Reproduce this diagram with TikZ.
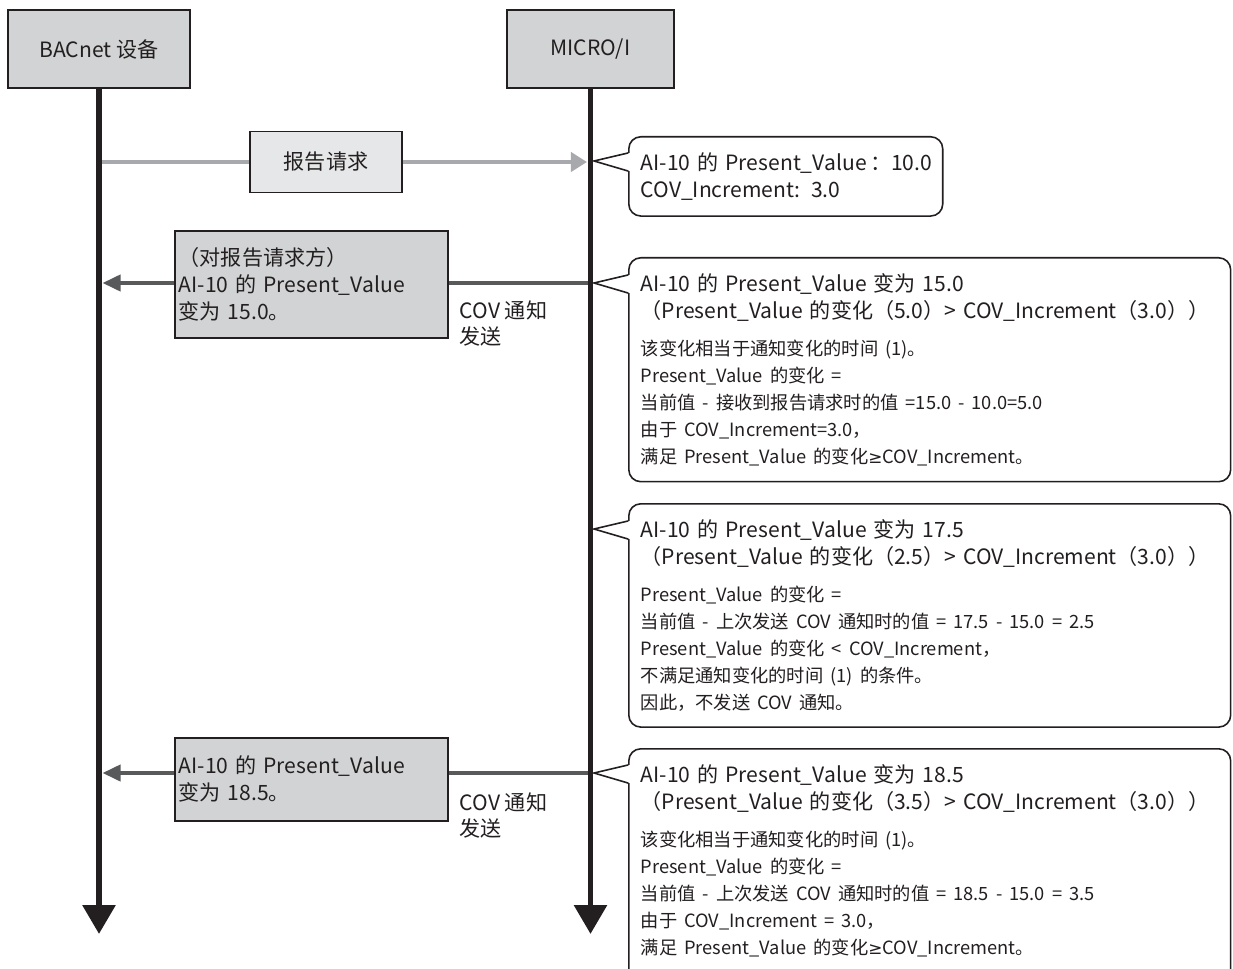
\documentclass[tikz,border=0pt]{standalone}
\usepackage{fontspec}
\setmainfont{Noto Sans CJK SC}
\newfontfamily\symfont{DejaVu Sans}
\usetikzlibrary{positioning,arrows.meta,calc}

\definecolor{inkblack}{HTML}{231F20}
\definecolor{headgray}{HTML}{D1D3D4}
\definecolor{reqgray}{HTML}{E6E7E8}
\definecolor{reqline}{HTML}{A7A9AC}
\definecolor{notifyline}{HTML}{58595B}

\newcommand{\bigtxt}{\fontsize{12}{15.3}\selectfont}
\newcommand{\smalltxt}{\fontsize{10.4}{15.3}\selectfont}
\newcommand{\gesign}{{\symfont\fontsize{9.6}{15.3}\selectfont ≥}}

\begin{document}
\begin{tikzpicture}[
		x=0.02cm, y=-0.02cm,
		every node/.style={
			font=\bigtxt,
			text=inkblack
		},
		headbox/.style={draw=inkblack, line width=0.9pt, fill=headgray, minimum height=1.56cm},
		reqbox/.style={draw=inkblack, line width=0.9pt, fill=reqgray, minimum width=3.04cm, minimum height=1.22cm},
		msgbox/.style={draw=inkblack, line width=0.9pt, fill=headgray, text width=5.3cm, align=left,
			inner xsep=0.08cm, inner ysep=0pt, anchor=north west},
		callbox/.style={draw=inkblack, line width=0.9pt, fill=white, rounded corners=0.24cm, align=left,
			inner xsep=0.24cm, inner ysep=9pt, anchor=north west},
		callline/.style={draw=inkblack, line width=0.9pt},
		lifeline/.style={draw=inkblack, line width=3.4pt, -{Triangle[width=0.64cm,length=0.58cm]}},
		reqarrow/.style={draw=reqline, line width=2.2pt},
		notifyarrow/.style={draw=notifyline, line width=2.2pt},
		notelabel/.style={align=left, inner sep=0pt, anchor=north west}
		]
		
		\path[use as bounding box, clip] (0,0) rectangle (1233,969);
		
		%--------------------------------------------------
		% Lifelines (heads)
		%--------------------------------------------------
		
		\node[headbox, minimum width=3.64cm] (bacnet) at (99,49) {BACnet 设备};
		\node[headbox, minimum width=3.34cm] (micro) at (590.5,49) {MICRO/I};
		
		\coordinate (endy) at (0,934);
		\coordinate (t1) at (594,161);
		\coordinate (t2) at (594,283);
		\coordinate (t3) at (594,529);
		\coordinate (t4) at (594,773);
		
		%--------------------------------------------------
		% Messages
		%--------------------------------------------------
		
		\node[reqbox] (req) at (326,162) {报告请求};
		
		\draw[reqarrow] (bacnet.south |- req) -- (req);
		\draw[reqarrow, -{Triangle[width=0.38cm,length=0.32cm]}, shorten >=2pt]
		(req) -- (micro.south |- req);
		
		\node[msgbox, minimum height=2.14cm] (msg1) at (174,230)
		{（对报告请求方）\\AI-10 的 Present\_Value\\变为 15.0。};
		
		\node[msgbox, minimum height=1.66cm] (msg3) at (174,737)
		{AI-10 的 Present\_Value\\变为 18.5。};
		
		\draw[notifyarrow] (micro.south |- t2) -- (msg1.east |- t2);
		\draw[notifyarrow, -{Triangle[width=0.32cm,length=0.36cm]}, shorten >=2pt]
		(msg1.west |- t2) -- (bacnet.south |- t2);
		
		\draw[notifyarrow] (micro.south |- t4) -- (msg3.east |- t4);
		\draw[notifyarrow, -{Triangle[width=0.32cm,length=0.36cm]}, shorten >=2pt]
		(msg3.west |- t4) -- (bacnet.south |- t4);
		
		\node[notelabel] (lab1) at ($(msg1.east |- t2)+(11,17)$) {COV 通知\\发送};
		\node[notelabel] (lab3) at ($(msg3.east |- t4)+(11,19)$) {COV 通知\\发送};
		
		\draw[lifeline] (bacnet.south) -- (bacnet.south |- endy);
		\draw[lifeline] (micro.south) -- (micro.south |- endy);
		
		%--------------------------------------------------
		% Callouts
		%--------------------------------------------------
		
		\node[callbox, text width=5.8cm] (c1) at (628,136)
		{\mbox{AI-10 的 Present\_Value\,：10.0}\\COV\_Increment: 3.0};
		
		\node[callbox, text width=11.56cm] (c2) at (628,257)
		{AI-10 的 Present\_Value 变为 15.0\\
			（Present\_Value 的变化（5.0）> COV\_Increment（3.0））\par
			\vspace{6pt}\smalltxt
			该变化相当于通知变化的时间 (1)。\\
			Present\_Value 的变化 =\\
			当前值 - 接收到报告请求时的值 =15.0 - 10.0=5.0\\
			由于 COV\_Increment=3.0，\\
			满足 Present\_Value 的变化\gesign COV\_Increment。};
		
		\node[callbox, text width=11.56cm] (c3) at (628,503)
		{AI-10 的 Present\_Value 变为 17.5\\
			（Present\_Value 的变化（2.5）> COV\_Increment（3.0））\par
			\vspace{6pt}\smalltxt
			Present\_Value 的变化 =\\
			当前值 - 上次发送 COV 通知时的值 = 17.5 - 15.0 = 2.5\\
			Present\_Value 的变化 < COV\_Increment，\\
			不满足通知变化的时间 (1) 的条件。\\
			因此，不发送 COV 通知。};
		
		\node[callbox, text width=11.56cm] (c4) at (628,748)
		{AI-10 的 Present\_Value 变为 18.5\\
			（Present\_Value 的变化（3.5）> COV\_Increment（3.0））\par
			\vspace{6pt}\smalltxt
			该变化相当于通知变化的时间 (1)。\\
			Present\_Value 的变化 =\\
			当前值 - 上次发送 COV 通知时的值 = 18.5 - 15.0 = 3.5\\
			由于 COV\_Increment = 3.0，\\
			满足 Present\_Value 的变化\gesign COV\_Increment。\\
			\mbox{}};
		
		\foreach \k in {1,2,3,4}
		{
			\fill[white] ($(c\k.west |- t\k)+(2,-8)$) -- (t\k) -- ($(c\k.west |- t\k)+(2,10)$) -- cycle;
			\draw[callline] ($(c\k.west |- t\k)+(0,-8)$) -- (t\k) -- ($(c\k.west |- t\k)+(0,10)$);
		}
		
	\end{tikzpicture}
\end{document}
